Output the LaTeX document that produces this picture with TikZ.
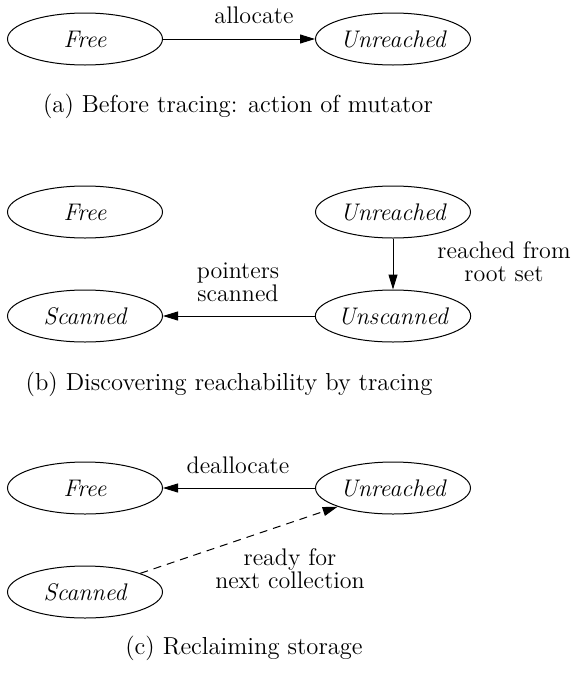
\documentclass[tikz,border=0pt]{standalone}
\usetikzlibrary{shapes.geometric,arrows.meta}
\begin{document}
\begin{tikzpicture}[x=0.5pt,y=-0.5pt,
  every node/.style={font=\fontsize{12}{11.5}\selectfont},
  stnode/.style={draw,ellipse,line width=0.5pt,inner sep=0pt,minimum width=77.5pt,minimum height=26pt,font=\fontsize{12}{11.5}\selectfont\itshape},
  conn/.style={draw,line width=0.5pt,-{Triangle[length=7.5pt,width=4.5pt]}},
  lbl/.style={align=center,inner sep=0pt},
  captext/.style={inner sep=0pt,font=\fontsize{12.3}{14}\selectfont}]
\useasboundingbox (0,0) rectangle (579,675);
% (a)
\node[stnode] (fa) at (85,39) {Free};
\node[stnode] (ua) at (393,39) {Unreached};
\draw[conn] (fa) -- (ua);
\node[lbl] (la) at (254,15) {allocate};
\node[captext] (ca) at (238,106) {(a) Before tracing: action of mutator};
% (b)
\node[stnode] (fb) at (85,212) {Free};
\node[stnode] (ub) at (393,212) {Unreached};
\node[stnode] (sb) at (85,316) {Scanned};
\node[stnode] (nb) at (393,316) {Unscanned};
\draw[conn] (ub) -- (nb);
\draw[conn] (nb) -- (sb);
\node[lbl] (lb1) at (504,262) {reached from\\root set};
\node[lbl] (lb2) at (238,282) {pointers\\scanned};
\node[captext] (cb) at (229,384) {(b) Discovering reachability by tracing};
% (c)
\node[stnode] (fc) at (85,488) {Free};
\node[stnode] (uc) at (393,488) {Unreached};
\node[stnode] (sc) at (85,592) {Scanned};
\draw[conn] (uc) -- (fc);
\draw[conn,dash pattern=on 4pt off 3pt] (sc) -- (uc);
\node[lbl] (lc1) at (238,465) {deallocate};
\node[lbl] (lc2) at (290,569) {ready for\\next collection};
\node[captext] (cc) at (244,648) {(c) Reclaiming storage};
\end{tikzpicture}
\end{document}
